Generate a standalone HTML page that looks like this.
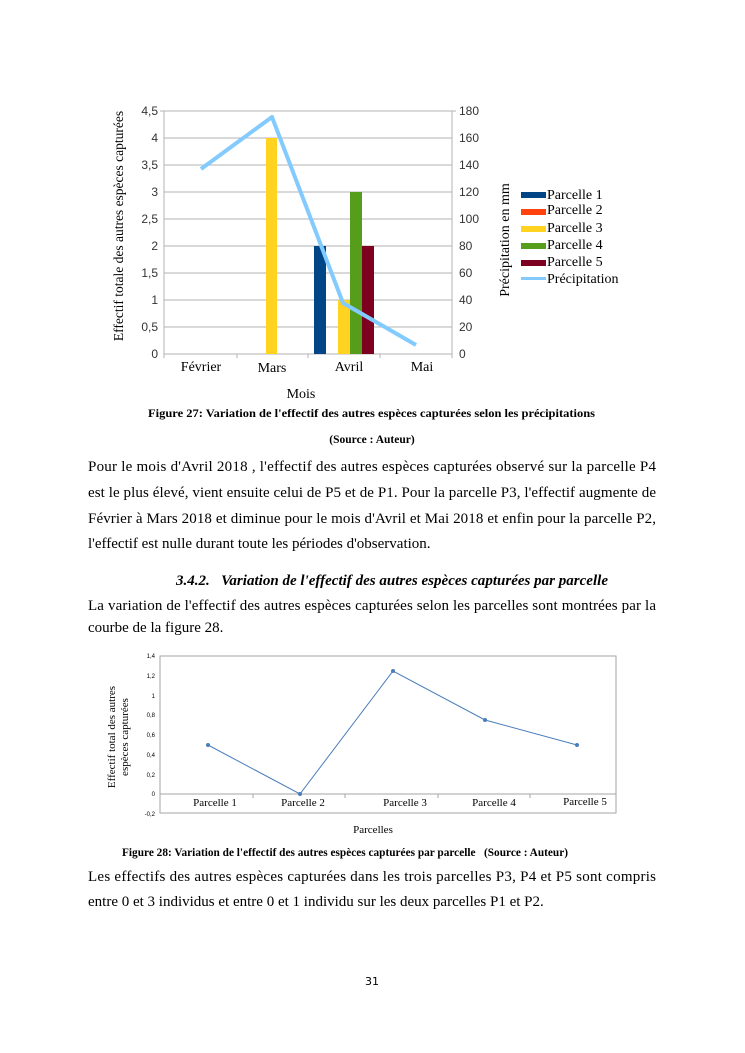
<!DOCTYPE html>
<html><head><meta charset="utf-8"><style>
html,body{margin:0;padding:0;background:#fff;}
svg{display:block;}
.s{font-family:"Liberation Sans",sans-serif;}
.r{font-family:"Liberation Serif",serif;}
</style></head><body>
<svg width="745" height="1053" viewBox="0 0 745 1053" xmlns="http://www.w3.org/2000/svg">
<rect width="745" height="1053" fill="#fff"/>
<!-- Chart 1 -->
<g stroke="#b3b3b3" stroke-width="1">
<line x1="164" y1="111" x2="452" y2="111"/><line x1="164" y1="138" x2="452" y2="138"/>
<line x1="164" y1="165" x2="452" y2="165"/><line x1="164" y1="192" x2="452" y2="192"/>
<line x1="164" y1="219" x2="452" y2="219"/><line x1="164" y1="246" x2="452" y2="246"/>
<line x1="164" y1="273" x2="452" y2="273"/><line x1="164" y1="300" x2="452" y2="300"/>
<line x1="164" y1="327" x2="452" y2="327"/><line x1="164" y1="354" x2="452" y2="354"/>
<line x1="164" y1="111" x2="164" y2="358"/><line x1="452" y1="111" x2="452" y2="358"/>
<line x1="237" y1="354" x2="237" y2="358"/><line x1="308" y1="354" x2="308" y2="358"/><line x1="380" y1="354" x2="380" y2="358"/>
<line x1="160" y1="111" x2="164" y2="111"/><line x1="452" y1="111" x2="456" y2="111"/>
</g>
<rect x="266" y="138" width="11" height="216" fill="#ffd320"/>
<rect x="314" y="246" width="12" height="108" fill="#004586"/>
<rect x="338" y="300" width="12" height="54" fill="#ffd320"/>
<rect x="350" y="192" width="12" height="162" fill="#579d1c"/>
<rect x="362" y="246" width="12" height="108" fill="#7e0021"/>
<polyline points="201,169 272,117 343,303 416,345" fill="none" stroke="#83caff" stroke-width="4" stroke-linejoin="round"/>
<g class="s" font-size="12" fill="#333" text-anchor="end">
<text x="158" y="115">4,5</text><text x="158" y="142">4</text><text x="158" y="169">3,5</text>
<text x="158" y="196">3</text><text x="158" y="223">2,5</text><text x="158" y="250">2</text>
<text x="158" y="277">1,5</text><text x="158" y="304">1</text><text x="158" y="331">0,5</text><text x="158" y="358">0</text>
</g>
<g class="s" font-size="12" fill="#333">
<text x="459" y="115">180</text><text x="459" y="142">160</text><text x="459" y="169">140</text>
<text x="459" y="196">120</text><text x="459" y="223">100</text><text x="459" y="250">80</text>
<text x="459" y="277">60</text><text x="459" y="304">40</text><text x="459" y="331">20</text><text x="459" y="358">0</text>
</g>
<g class="r" font-size="14" fill="#000" text-anchor="middle">
<text x="201" y="371">Février</text><text x="272" y="372">Mars</text><text x="349" y="371">Avril</text><text x="422" y="371">Mai</text>
<text x="301" y="398">Mois</text>
<text transform="translate(123,226) rotate(-90)" font-size="13.5">Effectif totale des autres espèces capturées</text>
<text transform="translate(509,240) rotate(-90)">Précipitation en mm</text>
</g>
<rect x="521" y="192" width="25" height="6" fill="#004586"/>
<rect x="521" y="209" width="25" height="6" fill="#ff420e"/>
<rect x="521" y="226" width="25" height="6" fill="#ffd320"/>
<rect x="521" y="243" width="25" height="6" fill="#579d1c"/>
<rect x="521" y="260" width="25" height="6" fill="#7e0021"/>
<rect x="521" y="277" width="25" height="3" fill="#83caff"/>
<g class="r" font-size="14" fill="#000">
<text x="547" y="199">Parcelle 1</text><text x="547" y="214">Parcelle 2</text><text x="547" y="232">Parcelle 3</text>
<text x="547" y="249">Parcelle 4</text><text x="547" y="266">Parcelle 5</text><text x="547" y="283">Précipitation</text>
</g>
<!-- captions & text -->
<g class="r" font-size="11.5" font-weight="bold">
<text x="148" y="417" textLength="447" lengthAdjust="spacingAndGlyphs">Figure 27: Variation de l'effectif des autres espèces capturées selon les précipitations</text>
<text x="372" y="443" text-anchor="middle">(Source : Auteur)</text>
<text x="122" y="856" textLength="446" lengthAdjust="spacingAndGlyphs">Figure 28: Variation de l'effectif des autres espèces capturées par parcelle&#160;&#160; (Source : Auteur)</text>
</g>
<g class="r" font-size="15" fill="#000">
<text x="88" y="471" textLength="568" lengthAdjust="spacing">Pour le mois d'Avril 2018 , l'effectif des autres espèces capturées observé sur la parcelle P4</text>
<text x="88" y="497" textLength="568" lengthAdjust="spacing">est le plus élevé, vient ensuite celui de P5 et de P1. Pour la parcelle P3, l'effectif augmente de</text>
<text x="88" y="523" textLength="568" lengthAdjust="spacing">Février à Mars 2018 et diminue pour le mois d'Avril et Mai 2018 et enfin pour la parcelle P2,</text>
<text x="88" y="548">l'effectif est nulle durant toute les périodes d'observation.</text>
<text x="176" y="585" font-weight="bold" font-style="italic" textLength="432" lengthAdjust="spacingAndGlyphs">3.4.2.&#160;&#160; Variation de l'effectif des autres espèces capturées par parcelle</text>
<text x="88" y="610" textLength="568" lengthAdjust="spacing">La variation de l'effectif des autres espèces capturées selon les parcelles sont montrées par la</text>
<text x="88" y="632">courbe de la figure 28.</text>
<text x="88" y="881" textLength="568" lengthAdjust="spacing">Les effectifs des autres espèces capturées dans les trois parcelles P3, P4 et P5 sont compris</text>
<text x="88" y="906">entre 0 et 3 individus et entre 0 et 1 individu sur les deux parcelles P1 et P2.</text>
</g>
<text x="372" y="985" font-family="'DejaVu Sans',sans-serif" font-size="11" text-anchor="middle">31</text>
<!-- Chart 2 -->
<rect x="160" y="656" width="456" height="157" fill="none" stroke="#a6a6a6"/>
<g stroke="#a6a6a6">
<line x1="160" y1="794" x2="616" y2="794"/>
<line x1="253" y1="794" x2="253" y2="798"/><line x1="345" y1="794" x2="345" y2="798"/>
<line x1="438" y1="794" x2="438" y2="798"/><line x1="530" y1="794" x2="530" y2="798"/>
</g>
<g class="s" font-size="6" fill="#000" text-anchor="end">
<text x="155" y="658">1,4</text><text x="155" y="678">1,2</text><text x="155" y="698">1</text>
<text x="155" y="717">0,8</text><text x="155" y="737">0,6</text><text x="155" y="757">0,4</text>
<text x="155" y="777">0,2</text><text x="155" y="796">0</text><text x="155" y="816">-0,2</text>
</g>
<polyline points="208,745 300,794 393,671 485,720 577,745" fill="none" stroke="#4a7ebb" stroke-width="1"/>
<g fill="#4a7ebb">
<circle cx="208" cy="745" r="2"/><circle cx="300" cy="794" r="2"/><circle cx="393" cy="671" r="2"/><circle cx="485" cy="720" r="2"/><circle cx="577" cy="745" r="2"/>
</g>
<g class="r" font-size="11" fill="#000" text-anchor="middle">
<text x="215" y="806">Parcelle 1</text><text x="303" y="806">Parcelle 2</text><text x="405" y="806">Parcelle 3</text>
<text x="494" y="806">Parcelle 4</text><text x="585" y="805">Parcelle 5</text>
<text x="373" y="833">Parcelles</text>
<text transform="translate(115,737) rotate(-90)">Effectif total des autres</text>
<text transform="translate(128,737) rotate(-90)">espèces capturées</text>
</g>
</svg>
</body></html>
